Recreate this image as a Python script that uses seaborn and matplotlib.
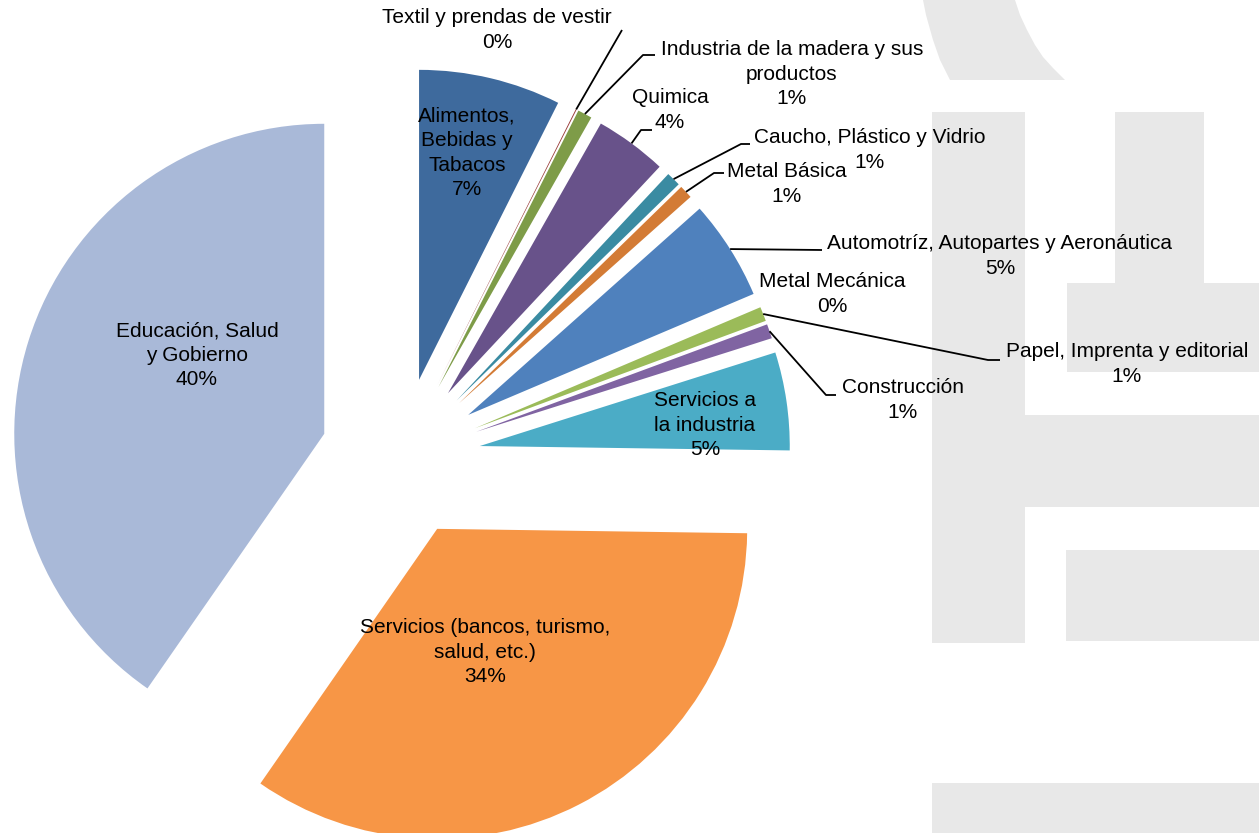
import matplotlib
matplotlib.use("Agg")
import matplotlib.pyplot as plt
import numpy as np
import seaborn as sns
from matplotlib.patches import Rectangle, Polygon

# sectores en el orden del pastel (desde las 12 en sentido horario)
sectores = [
    "Alimentos,\nBebidas y\nTabacos",
    "Textil y prendas de vestir",
    "Industria de la madera y sus\nproductos",
    "Quimica",
    "Caucho, Plástico y Vidrio",
    "Metal Básica",
    "Automotríz, Autopartes y Aeronáutica",
    "Metal Mecánica",
    "Papel, Imprenta y editorial",
    "Construcción",
    "Servicios a\nla industria",
    "Servicios (bancos, turismo,\nsalud, etc.)",
    "Educación, Salud\ny Gobierno",
]
porcentajes = [7.4, 0.05, 0.75, 3.75, 0.75, 0.7, 5.2, 0.0, 0.75, 0.75, 5.1, 34.4, 40.3]
colores = ["#3E6A9D", "#9B3D3B", "#7E9C48", "#68528A", "#3A8BA2", "#D37B35",
           "#4F81BD", "#C0504D", "#9BBB59", "#8064A2", "#4BACC6", "#F79646",
           "#A9B9D8"]

W, H = 1259, 833

# posiciones de etiquetas (pixeles desde arriba) y lineas guia (codo, fin)
pos_etiquetas = [(467, 153), (497, 30), (792, 74), (670, 110), (870, 150),
                 (787, 184), (1000, 256), (832, 294), (1127, 364), (903, 400),
                 (705, 425), (485, 652), (197, 355)]
guias = [None, ((622, 30), (622, 30)), ((643, 55), (655, 55)),
         ((641, 130), (652, 130)), ((741, 144), (750, 144)),
         ((714, 173), (724, 173)), ((822, 250), (822, 250)), None,
         ((988, 360), (1000, 360)), ((826, 395), (836, 395)), None, None, None]

# marca de agua de fondo (gris claro)
fondo_rects = [(932, 112, 93, 531), (1115, 112, 89, 171), (1067, 283, 192, 89),
               (1020, 415, 239, 92), (1066, 550, 193, 91), (932, 783, 327, 50)]
fondo_curva = [(923, 0), (926, 15), (933, 40), (940, 60), (950, 80),
               (1065, 80), (1053, 68), (1043, 57), (1035, 45), (1027, 30),
               (1020, 15), (1015, 0)]

sns.set_theme(style="white")
plt.rcParams['font.family'] = ['Liberation Sans', 'DejaVu Sans']

fig = plt.figure(figsize=(W / 100, H / 100), dpi=100)
ax = fig.add_axes([0, 0, 1, 1])

gris = "#E8E8E8"
for x, y, w, h in fondo_rects:
    ax.add_patch(Rectangle((x, H - y - h), w, h, color=gris, lw=0, zorder=0))
ax.add_patch(Polygon([(x, H - y) for x, y in fondo_curva], closed=True,
                     color=gris, lw=0, zorder=0))

wedges, _ = ax.pie(porcentajes, colors=colores, startangle=90,
                   counterclock=False, radius=310, center=(400.6, H - 457.7),
                   explode=[80] * len(porcentajes),
                   wedgeprops=dict(linewidth=0))

for w, nombre, p, (lx, ly), guia in zip(wedges, sectores, porcentajes,
                                         pos_etiquetas, guias):
    ax.text(lx, H - ly, f"{nombre}\n{round(p)}%", ha="center", va="center",
            fontsize=15, color="black", linespacing=1.36, zorder=5)
    if guia is not None:
        ang = np.deg2rad((w.theta1 + w.theta2) / 2)
        cx, cy = w.center
        px, py = cx + w.r * np.cos(ang), cy + w.r * np.sin(ang)
        (ex, ey), (fx, fy) = guia
        ax.plot([px, ex, fx], [py, H - ey, H - fy], color="black", lw=1.3,
                zorder=4, solid_capstyle="butt")

ax.set_xlim(0, W)
ax.set_ylim(0, H)
ax.set_aspect("equal")
ax.axis("off")

fig.savefig("out.png", dpi=100)
